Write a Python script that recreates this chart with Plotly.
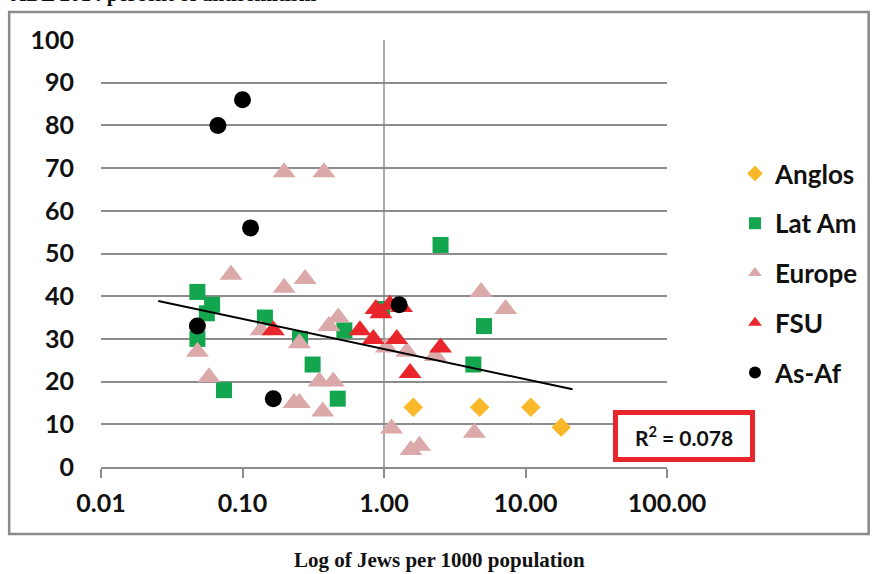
import plotly.graph_objects as go

# ---- data ----
anglos_x = [1.61, 4.74, 10.9, 17.9]
anglos_y = [14, 14, 14, 9.3]

latam_x = [0.048, 0.061, 0.056, 0.048, 0.074, 0.144, 0.255, 0.313, 0.471, 0.525, 0.97, 2.51, 5.09, 4.28]
latam_y = [41, 38, 36, 30, 18, 35, 30, 24, 16, 32, 37, 52, 33, 24]

europe_x = [0.197, 0.376, 0.083, 0.277, 0.197, 0.135, 0.252, 0.408, 0.475, 0.048, 0.058,
            0.349, 0.438, 0.231, 0.252, 0.369, 1.13, 1.55, 1.78, 1.04, 1.45, 2.3, 4.85, 7.24, 4.35]
europe_y = [69, 69, 45, 44, 42, 32, 29, 33, 35, 27, 21,
            20, 20, 15, 15, 13, 9, 4, 5, 28, 27, 26, 41, 37, 8]

fsu_x = [0.165, 0.676, 0.84, 1.23, 0.877, 0.95, 1.10, 1.33, 1.53, 2.51]
fsu_y = [32, 32, 30, 30, 37, 36, 38, 37.5, 22, 28]

asaf_x = [0.10, 0.067, 0.114, 0.048, 0.165, 1.28]
asaf_y = [86, 80, 56, 33, 16, 38]

trend_x = [0.0254, 21.5]
trend_y = [38.9, 18.2]

x_tickvals = [0.01, 0.1, 1, 10, 100]
x_ticktext = ["0.01", "0.10", "1.00", "10.00", "100.00"]
y_tickvals = list(range(0, 101, 10))

r2_text = "R<sup>2</sup> = 0.078"
title_text = "ADL 2014 percent of antisemitism"
xaxis_title = "Log of Jews per 1000 population"

# ---- figure ----
W, H = 874, 574
L, R, T, B = 101, 206, 40, 107
pw, ph = W - L - R, H - T - B

def px2paper_x(px):
    return (px - L) / pw

def px2paper_y(py):
    return (H - B - py) / ph

SANS = "Lato, Calibri, Carlito, sans-serif"
SERIF = "'Liberation Serif', 'Times New Roman', serif"

fig = go.Figure()

series = [
    ("Anglos", anglos_x, anglos_y, "diamond", "#F9B72A", 15),
    ("Lat Am", latam_x, latam_y, "square", "#14A64F", 16),
    ("Europe", europe_x, europe_y, "triangle-up", "#DBA9A9", 20),
    ("FSU", fsu_x, fsu_y, "triangle-up", "#E8262B", 20),
    ("As-Af", asaf_x, asaf_y, "circle", "#000000", 17),
]
for name, xs, ys, sym, col, sz in series:
    fig.add_trace(go.Scatter(
        x=xs, y=ys, mode="markers", name=name, legendgroup=name,
        marker=dict(symbol=sym, color=col, size=sz, line=dict(width=0)),
    ))

fig.add_trace(go.Scatter(
    x=trend_x, y=trend_y, mode="lines", showlegend=False,
    line=dict(color="black", width=2),
))

fig.update_layout(
    width=W, height=H,
    margin=dict(l=L, r=R, t=T, b=B),
    paper_bgcolor="white", plot_bgcolor="white",
    font=dict(family=SANS, color="#111111"),
    legend=dict(
        x=px2paper_x(735), y=px2paper_y(150), xanchor="left", yanchor="top",
        font=dict(family=SANS, size=26, weight="bold", color="#111111"),
        tracegroupgap=13, bgcolor="rgba(0,0,0,0)", itemsizing="constant",
    ),
    xaxis=dict(
        type="log", range=[-2, 2],
        tickvals=x_tickvals, ticktext=x_ticktext,
        showgrid=False, showline=True, linecolor="#8c8c8c", linewidth=1.5,
        ticks="outside", ticklen=9, tickcolor="#8c8c8c", tickwidth=1.5,
        tickfont=dict(family=SANS, size=25, weight="bold", color="#111111"),
        ticklabelstandoff=4, zeroline=False,
    ),
    yaxis=dict(
        range=[0, 100], tickvals=y_tickvals,
        showgrid=True, gridcolor="#8c8c8c", gridwidth=1.5,
        showline=False, ticks="", zeroline=False,
        tickfont=dict(family=SANS, size=25, weight="bold", color="#111111"),
        ticklabelstandoff=26,
    ),
    shapes=[
        # vertical axis crossing at 1.00
        dict(type="line", xref="x", yref="paper", x0=1, x1=1, y0=0, y1=1,
             line=dict(color="#8c8c8c", width=1.5), layer="below"),
        # outer chart border
        dict(type="rect", xref="paper", yref="paper",
             x0=px2paper_x(9), x1=px2paper_x(870), y0=px2paper_y(534), y1=px2paper_y(12),
             line=dict(color="#8a8a8a", width=2.5), layer="below"),
    ],
    annotations=[
        dict(text=r2_text, xref="paper", yref="paper",
             x=px2paper_x(685), y=px2paper_y(436), xanchor="center", yanchor="middle",
             showarrow=False, width=128, height=38,
             bordercolor="#E8262B", borderwidth=5, borderpad=2, bgcolor="white",
             font=dict(family=SANS, size=21, weight="bold", color="#111111")),
        dict(text="<b>" + title_text + "</b>", xref="paper", yref="paper",
             x=px2paper_x(9), y=px2paper_y(8), xanchor="left", yanchor="bottom",
             showarrow=False, font=dict(family=SERIF, size=21, color="#111111")),
        dict(text="<b>" + xaxis_title + "</b>", xref="paper", yref="paper",
             x=px2paper_x(440), y=px2paper_y(574), xanchor="center", yanchor="bottom",
             showarrow=False, font=dict(family=SERIF, size=21, color="#111111")),
    ],
)

fig.write_html("out.html")
